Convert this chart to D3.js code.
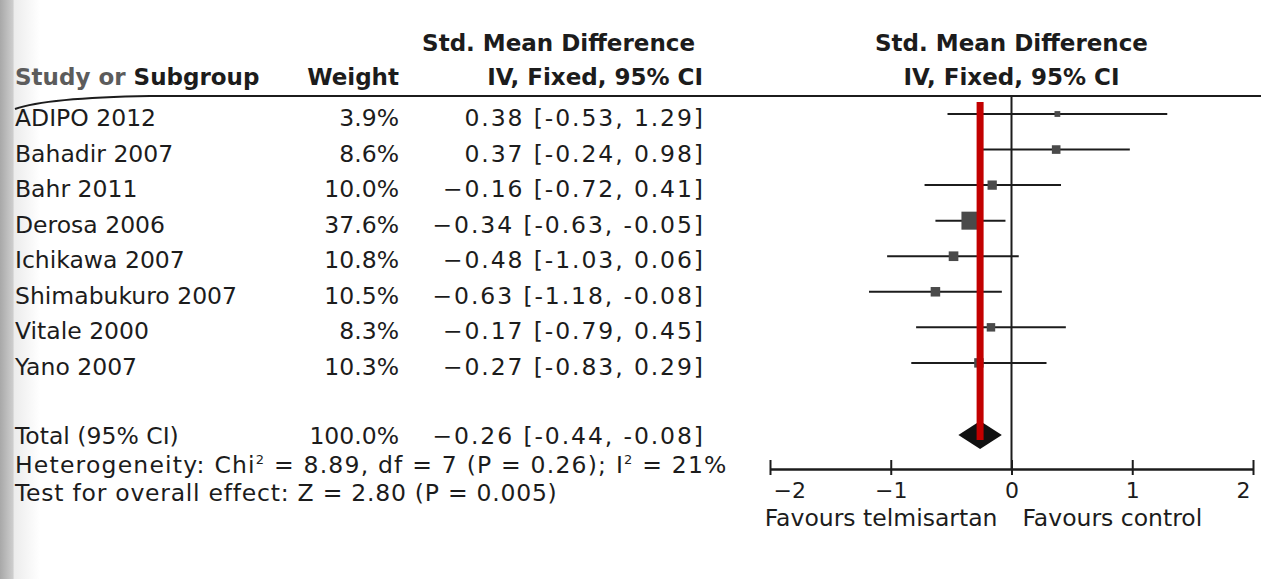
<!DOCTYPE html>
<html>
<head>
<meta charset="utf-8">
<script src="https://cdn.jsdelivr.net/npm/d3@7"></script>
<style>
  html, body { margin: 0; padding: 0; background: #fff; }
  svg { display: block; font-family: 'DejaVu Sans', sans-serif; }
</style>
</head>
<body>
<svg id="chart" width="1261" height="579"></svg>
<script>
// study level data (Std. Mean Difference, IV fixed)
const studies = ['ADIPO 2012', 'Bahadir 2007', 'Bahr 2011', 'Derosa 2006',
  'Ichikawa 2007', 'Shimabukuro 2007', 'Vitale 2000', 'Yano 2007'];
const weights = [3.9, 8.6, 10.0, 37.6, 10.8, 10.5, 8.3, 10.3];
const smd = [0.38, 0.37, -0.16, -0.34, -0.48, -0.63, -0.17, -0.27];
const lower = [-0.53, -0.24, -0.72, -0.63, -1.03, -1.18, -0.79, -0.83];
const upper = [1.29, 0.98, 0.41, -0.05, 0.06, -0.08, 0.45, 0.29];

// pooled result
const totalWeight = 100.0;
const totalSmd = -0.26;
const totalLower = -0.44;
const totalUpper = -0.08;

// heterogeneity / overall effect
const chi2 = 8.89;
const df = 7;
const pHet = 0.26;
const i2 = 21;
const zValue = 2.80;
const pZ = 0.005;

const xTicks = [-2, -1, 0, 1, 2];

const svg = d3.select('#chart');
const ink = '#1c1c1c';
const fontSize = 23.5;

// grey strip from the scan at the left edge
const grad = svg.append('defs').append('linearGradient')
  .attr('id', 'edge')
  .attr('gradientUnits', 'userSpaceOnUse')
  .attr('x1', 0).attr('x2', 40).attr('y1', 0).attr('y2', 0);
grad.selectAll('stop')
  .data([[0, '#a8a8a8'], [0.32, '#cdcdcd'], [0.36, '#ececec'], [1, '#ffffff']])
  .join('stop')
  .attr('offset', d => d[0])
  .attr('stop-color', d => d[1]);
svg.append('rect').attr('width', 40).attr('height', 579).attr('fill', 'url(#edge)');

// scales
const x = d3.scaleLinear().domain([-2, 2]).range([770, 1253]);
const y = d3.scaleLinear().domain([0, studies.length + 1]).range([114, 434]);
const box = d3.scaleSqrt().domain([0, d3.max(weights)]).range([0, 18]);

const nameX = 15;
const weightX = 399;
const ciX = 703;
const ciSpacing = 1.9;
const axisY = 469;

const fmtW = v => `${d3.format('.1f')(v)}%`;
const fmtLead = d3.format('.2f');
const fmtIn = v => d3.format('.2f')(v).replace('\u2212', '-');
const fmtCI = (m, lo, hi) => `${fmtLead(m)} [${fmtIn(lo)}, ${fmtIn(hi)}]`;

// headers
const head = svg.append('g')
  .attr('font-weight', 'bold')
  .attr('font-size', 23)
  .attr('fill', ink);

const sg = head.append('text').attr('x', nameX).attr('y', 85);
sg.append('tspan').attr('fill', '#5c5c5c').text('Study or ');
sg.append('tspan').text('Subgroup');

head.append('text').attr('x', weightX).attr('y', 85)
  .attr('text-anchor', 'end').text('Weight');
head.append('text').attr('x', 695).attr('y', 51)
  .attr('text-anchor', 'end').text('Std. Mean Difference');
head.append('text').attr('x', ciX).attr('y', 85)
  .attr('text-anchor', 'end').text('IV, Fixed, 95% CI');
head.append('text').attr('x', x(0)).attr('y', 51)
  .attr('text-anchor', 'middle').text('Std. Mean Difference');
head.append('text').attr('x', x(0)).attr('y', 85)
  .attr('text-anchor', 'middle').text('IV, Fixed, 95% CI');

// rule under the header (curls down at the page edge)
svg.append('path')
  .attr('d', 'M15,109 C40,100 90,97 150,96 H1261')
  .attr('fill', 'none')
  .attr('stroke', ink)
  .attr('stroke-width', 2.2);

// study rows
const rows = svg.append('g')
  .attr('font-size', fontSize)
  .attr('fill', ink);

const row = rows.selectAll('g.row')
  .data(studies)
  .join('g')
  .attr('class', 'row');

row.append('text')
  .attr('x', nameX)
  .attr('y', (d, i) => y(i) + 12)
  .text(d => d);

row.append('text')
  .attr('x', weightX)
  .attr('y', (d, i) => y(i) + 12)
  .attr('text-anchor', 'end')
  .text((d, i) => fmtW(weights[i]));

row.append('text')
  .attr('x', ciX + ciSpacing)
  .attr('y', (d, i) => y(i) + 12)
  .attr('text-anchor', 'end')
  .attr('letter-spacing', ciSpacing)
  .text((d, i) => fmtCI(smd[i], lower[i], upper[i]));

// total row
const totY = y(studies.length + 1);
rows.append('text').attr('x', nameX).attr('y', totY + 10).text('Total (95% CI)');
rows.append('text').attr('x', weightX).attr('y', totY + 10)
  .attr('text-anchor', 'end').text(fmtW(totalWeight));
rows.append('text').attr('x', ciX + ciSpacing).attr('y', totY + 10)
  .attr('text-anchor', 'end')
  .attr('letter-spacing', ciSpacing)
  .text(fmtCI(totalSmd, totalLower, totalUpper));

// heterogeneity and overall effect
const het = rows.append('text')
  .attr('x', nameX).attr('y', 473)
  .attr('letter-spacing', 1.2);
het.append('tspan').text('Heterogeneity: Chi');
het.append('tspan').attr('font-size', 13).attr('dy', -9).text('2');
het.append('tspan').attr('dy', 9).text(` = ${chi2}, df = ${df} (P = ${pHet}); I`);
het.append('tspan').attr('font-size', 13).attr('dy', -9).text('2');
het.append('tspan').attr('dy', 9).text(` = ${i2}%`);

rows.append('text')
  .attr('x', nameX).attr('y', 501)
  .attr('letter-spacing', 0.75)
  .text(`Test for overall effect: Z = ${d3.format('.2f')(zValue)} (P = ${pZ})`);

// forest plot
const plot = svg.append('g');

plot.append('line')
  .attr('x1', x(0)).attr('x2', x(0))
  .attr('y1', 96).attr('y2', axisY)
  .attr('stroke', ink)
  .attr('stroke-width', 2);

plot.selectAll('line.ci')
  .data(studies)
  .join('line')
  .attr('class', 'ci')
  .attr('x1', (d, i) => x(lower[i]))
  .attr('x2', (d, i) => x(upper[i]))
  .attr('y1', (d, i) => y(i))
  .attr('y2', (d, i) => y(i))
  .attr('stroke', ink)
  .attr('stroke-width', 2);

plot.selectAll('rect.box')
  .data(studies)
  .join('rect')
  .attr('class', 'box')
  .attr('x', (d, i) => x(smd[i]) - box(weights[i]) / 2)
  .attr('y', (d, i) => y(i) - box(weights[i]) / 2)
  .attr('width', (d, i) => box(weights[i]))
  .attr('height', (d, i) => box(weights[i]))
  .attr('fill', '#4a4a4a');

plot.append('path')
  .attr('d', [
    [x(totalLower), totY + 1],
    [x(totalSmd), totY - 13],
    [x(totalUpper), totY + 1],
    [x(totalSmd), totY + 15],
  ].map((p, i) => (i ? 'L' : 'M') + p).join('') + 'Z')
  .attr('fill', '#111');

// axis
const axis = plot.append('g')
  .attr('transform', `translate(0,${axisY})`)
  .call(d3.axisBottom(x).tickValues(xTicks).tickSizeOuter(0).tickFormat(d3.format('d')))
  .attr('font-family', null)
  .attr('font-size', 22);

axis.select('.domain').attr('stroke', ink).attr('stroke-width', 2.5);
axis.selectAll('.tick line')
  .attr('y1', -9).attr('y2', 6)
  .attr('stroke', ink)
  .attr('stroke-width', 2);
axis.selectAll('.tick text')
  .attr('y', 29)
  .attr('dy', null)
  .attr('fill', ink)
  .attr('text-anchor', d => (d === xTicks[0] ? 'start' : d === xTicks[xTicks.length - 1] ? 'end' : 'middle'))
  .attr('dx', d => (d === xTicks[0] ? 3 : d === xTicks[xTicks.length - 1] ? -3 : 0));

plot.append('text')
  .attr('x', x(0) - 14).attr('y', 526)
  .attr('text-anchor', 'end')
  .attr('font-size', fontSize)
  .attr('fill', ink)
  .text('Favours telmisartan');
plot.append('text')
  .attr('x', x(0) + 11).attr('y', 526)
  .attr('font-size', fontSize)
  .attr('fill', ink)
  .text('Favours control');

// pooled estimate marker (red)
plot.append('line')
  .attr('x1', x(totalSmd)).attr('x2', x(totalSmd))
  .attr('y1', 102).attr('y2', 440)
  .attr('stroke', '#c20000')
  .attr('stroke-width', 7);
</script>
</body>
</html>
